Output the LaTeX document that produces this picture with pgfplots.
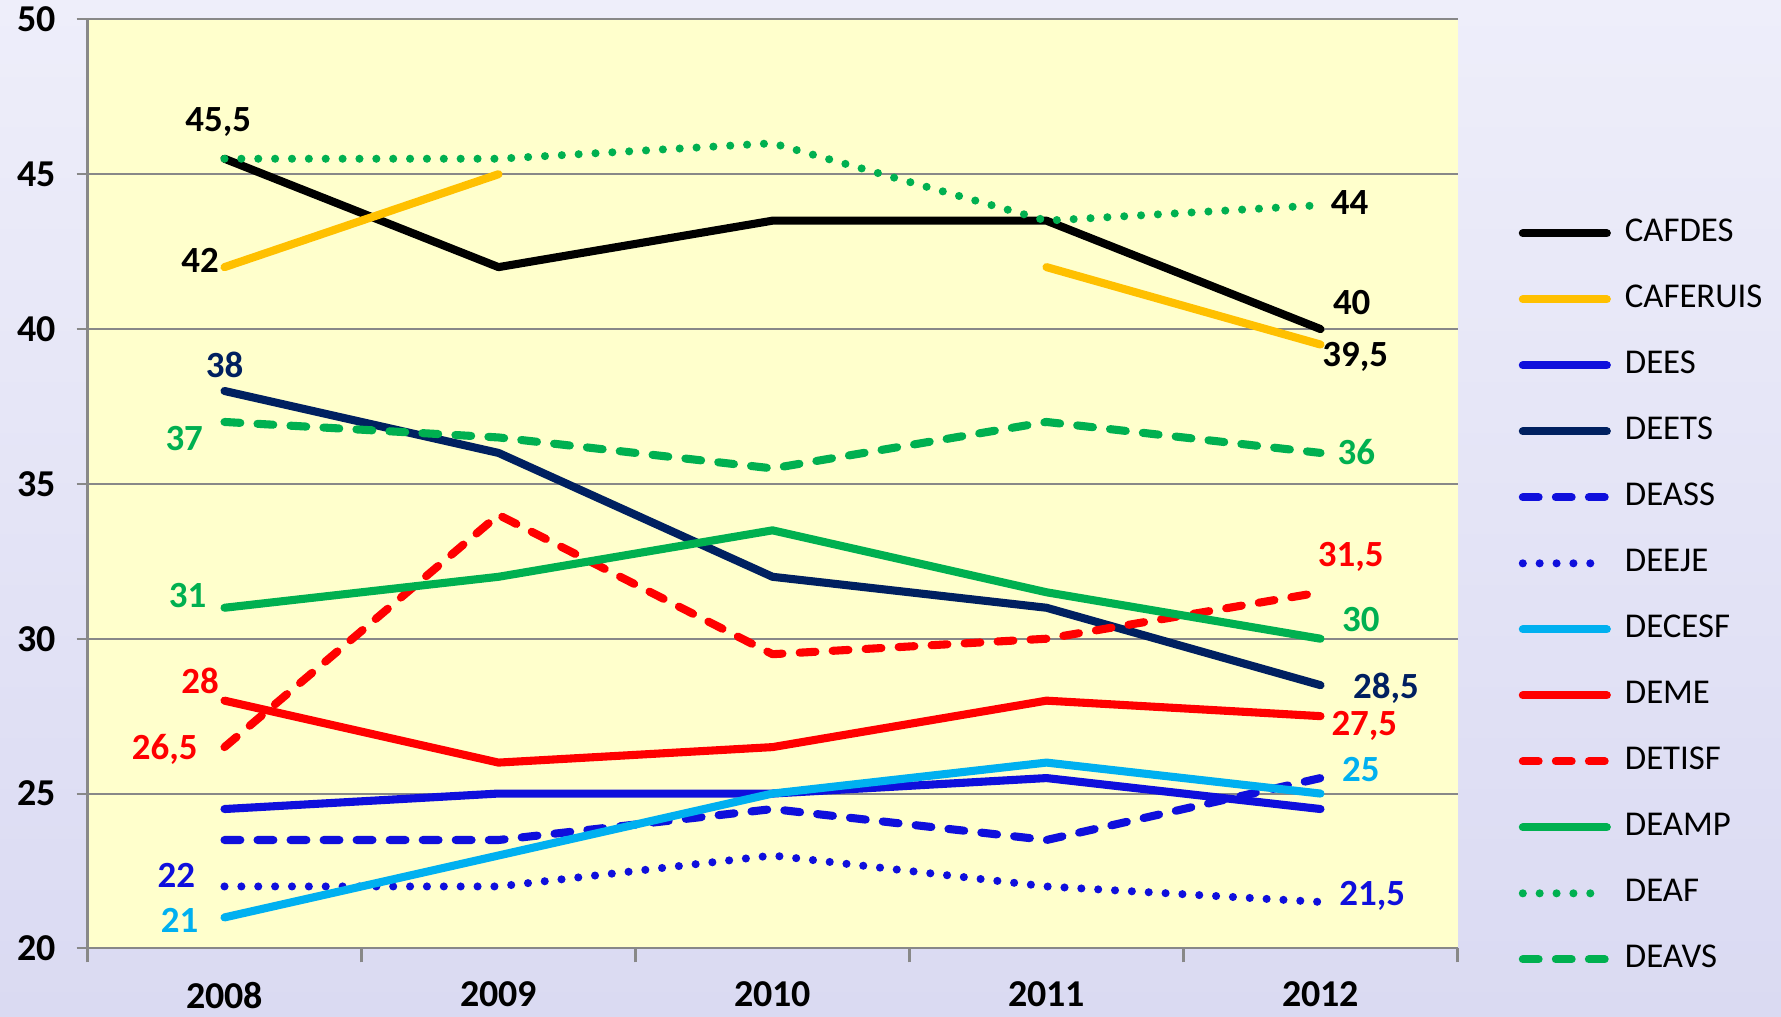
\documentclass[border=0pt]{standalone}
\usepackage{fontspec}
\setmainfont{Carlito}
\usepackage{pgfplots}
\pgfplotsset{compat=1.18}
\definecolor{cblue}{RGB}{15,15,220}
\definecolor{cnavy}{RGB}{0,32,96}
\definecolor{corange}{RGB}{255,192,0}
\definecolor{clight}{RGB}{0,176,240}
\definecolor{cred}{RGB}{255,0,0}
\definecolor{cgreen}{RGB}{0,176,80}
\definecolor{plotbg}{RGB}{255,255,204}
\definecolor{gridc}{RGB}{136,136,136}
\definecolor{bgtop}{RGB}{238,238,250}
\definecolor{bgbot}{RGB}{218,218,242}
\pgfplotsset{
  ln/.style={line width=2.3pt,line cap=round,line join=round},
  dsh/.style={ln,dash pattern=on 4.5pt off 4.9pt},
  dts/.style={ln,dash pattern=on 0pt off 4.8pt},
}
\tikzset{lbl/.style={font=\bfseries\fontsize{10.5}{12}\selectfont,inner sep=0pt,anchor=center}}
\begin{document}
\begin{tikzpicture}
\shade[top color=bgtop,bottom color=bgbot] (0,0) rectangle (17.81,10.17);
\begin{axis}[at={(0.875cm,0.686cm)},anchor=south west,
  scale only axis,width=13.70cm,height=9.29cm,
  xmin=2007.5,xmax=2012.5,ymin=20,ymax=50,
  axis background/.style={fill=plotbg},
  axis x line*=bottom,axis y line*=left,
  axis line style={gridc,line width=0.6pt},
  xtick={2008,2009,2010,2011,2012},
  xticklabels={2008,2009,2010,2011,2012},
  minor xtick={2007.5,2008.5,2009.5,2010.5,2011.5,2012.5},
  major x tick style={draw=none},
  minor x tick style={gridc,line width=0.6pt},
  minor tick length=0.14cm,
  ytick={20,25,30,35,40,45,50},
  major y tick style={gridc,line width=0.6pt},
  major tick length=0.11cm,
  tick align=outside,
  ymajorgrids,grid style={gridc,line width=0.6pt},
  tick label style={font=\bfseries\fontsize{10.8}{12}\selectfont},
  /pgf/number format/assume math mode=true,
  xticklabel shift=0.1cm,
  yticklabel shift=0.08cm,
  unbounded coords=jump,
  clip=false,
  legend style={at={(rel axis cs:1.0442,0.806)},anchor=north west,
    draw=none,fill=none,inner sep=0pt,row sep=0pt,column sep=0.14cm,
    nodes={inner sep=0pt,minimum height=0.66cm,text=black,
      font=\fontsize{9.9}{11}\selectfont}},
  legend cell align=left,
  legend image code/.code={\draw[#1] (0.04cm,0cm) -- (0.88cm,0cm);},
]
\addplot[ln,black] coordinates {(2008,45.5)(2009,42)(2010,43.5)(2011,43.5)(2012,40)};
\addlegendentry{CAFDES}
\addplot[ln,corange] coordinates {(2008,42)(2009,45)(2010,nan)(2011,42)(2012,39.5)};
\addlegendentry{CAFERUIS}
\addplot[ln,cblue] coordinates {(2008,24.5)(2009,25)(2010,25)(2011,25.5)(2012,24.5)};
\addlegendentry{DEES}
\addplot[ln,cnavy] coordinates {(2008,38)(2009,36)(2010,32)(2011,31)(2012,28.5)};
\addlegendentry{DEETS}
\addplot[dsh,cblue] coordinates {(2008,23.5)(2009,23.5)(2010,24.5)(2011,23.5)(2012,25.5)};
\addlegendentry{DEASS}
\addplot[dts,cblue] coordinates {(2008,22)(2009,22)(2010,23)(2011,22)(2012,21.5)};
\addlegendentry{DEEJE}
\addplot[ln,clight] coordinates {(2008,21)(2009,23)(2010,25)(2011,26)(2012,25)};
\addlegendentry{DECESF}
\addplot[ln,cred] coordinates {(2008,28)(2009,26)(2010,26.5)(2011,28)(2012,27.5)};
\addlegendentry{DEME}
\addplot[dsh,cred] coordinates {(2008,26.5)(2009,34)(2010,29.5)(2011,30)(2012,31.5)};
\addlegendentry{DETISF}
\addplot[ln,cgreen] coordinates {(2008,31)(2009,32)(2010,33.5)(2011,31.5)(2012,30)};
\addlegendentry{DEAMP}
\addplot[dts,cgreen] coordinates {(2008,45.5)(2009,45.5)(2010,46)(2011,43.5)(2012,44)};
\addlegendentry{DEAF}
\addplot[dsh,cgreen] coordinates {(2008,37)(2009,36.5)(2010,35.5)(2011,37)(2012,36)};
\addlegendentry{DEAVS}
% value labels, 2008 side
\node[lbl,text=black] at (axis cs:2007.977,46.70) {45,5};
\node[lbl,text=black] at (axis cs:2007.911,42.22) {42};
\node[lbl,text=cnavy] at (axis cs:2008.0,38.85) {38};
\node[lbl,text=cgreen] at (axis cs:2007.853,36.46) {37};
\node[lbl,text=cgreen] at (axis cs:2007.865,31.40) {31};
\node[lbl,text=cred] at (axis cs:2007.911,28.65) {28};
\node[lbl,text=cred] at (axis cs:2007.782,26.42) {26,5};
\node[lbl,text=cblue] at (axis cs:2007.824,22.35) {22};
\node[lbl,text=clight] at (axis cs:2007.836,20.92) {21};
% value labels, 2012 side
\node[lbl,text=black] at (axis cs:2012.106,44.09) {44};
\node[lbl,text=black] at (axis cs:2012.114,40.87) {40};
\node[lbl,text=black] at (axis cs:2012.127,39.11) {39,5};
\node[lbl,text=cgreen] at (axis cs:2012.131,36.02) {36};
\node[lbl,text=cred] at (axis cs:2012.110,32.65) {31,5};
\node[lbl,text=cgreen] at (axis cs:2012.147,30.63) {30};
\node[lbl,text=cnavy] at (axis cs:2012.239,28.40) {28,5};
\node[lbl,text=cred] at (axis cs:2012.160,27.19) {27,5};
\node[lbl,text=clight] at (axis cs:2012.147,25.79) {25};
\node[lbl,text=cblue] at (axis cs:2012.189,21.69) {21,5};
\end{axis}
\pgfresetboundingbox
\path[use as bounding box] (0,0) rectangle (17.81,10.17);
\end{tikzpicture}
\end{document}
